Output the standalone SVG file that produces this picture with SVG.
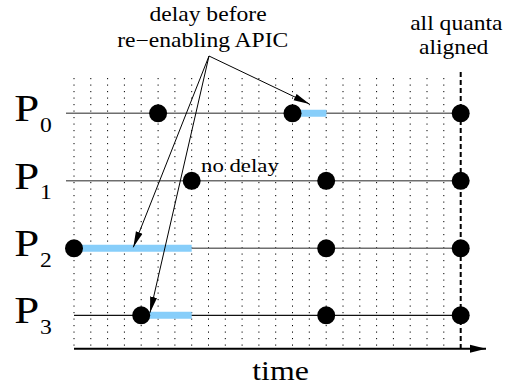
<svg xmlns="http://www.w3.org/2000/svg" width="508" height="387" viewBox="0 0 508 387">
  <style>
    text { font-family: 'Liberation Serif', 'Times New Roman', 'DejaVu Serif', serif; fill: #000; }
    .grid { stroke: #000; stroke-width: 1; stroke-dasharray: 1.2 5.3; fill: none; }
    .lane { stroke: #6e6e6e; stroke-width: 1.6; fill: none; }
    .lane-dark { stroke: #111; stroke-width: 1.2; fill: none; }
    .delay { stroke: #87cefa; stroke-width: 7; fill: none; }
    .evt { fill: #000; }
    .ptr { stroke: #000; stroke-width: 1; fill: none; marker-end: url(#head); }
  </style>
  <defs>
    <marker id="head" markerUnits="userSpaceOnUse" markerWidth="16" markerHeight="8" refX="16" refY="4" orient="auto">
      <path d="M0,0.5 L16,4 L0,7.5 z" fill="#000"/>
    </marker>
    <marker id="axis-head" markerUnits="userSpaceOnUse" markerWidth="16" markerHeight="9" refX="16" refY="4.5" orient="auto">
      <path d="M0,0.5 L16,4.5 L0,8.5 z" fill="#000"/>
    </marker>
  </defs>

  <!-- time grid: dotted ticks every quantum step -->
  <g id="grid">
    <path class="grid" d="M74,78V347 M90.8,78V347 M107.6,78V347 M124.4,78V347 M141.2,78V347 M158.1,78V347 M174.9,78V347 M191.7,78V347 M208.5,78V347 M225.3,78V347 M242.1,78V347 M258.9,78V347 M275.7,78V347 M292.5,78V347 M309.3,78V347 M326.2,78V347 M343,78V347 M359.8,78V347 M376.6,78V347 M393.4,78V347 M410.2,78V347 M427,78V347 M443.8,78V347"/>
    <line x1="460.7" y1="72" x2="460.7" y2="350" stroke="#000" stroke-width="2" stroke-dasharray="5 3"/>
  </g>

  <!-- time axis -->
  <g id="axis">
    <line x1="74" y1="348.7" x2="486" y2="348.7" stroke="#000" stroke-width="2" marker-end="url(#axis-head)"/>
    <text font-family="Liberation Serif, serif" font-size="27" text-anchor="middle" transform="translate(280.5,380) scale(1.18,1)">time</text>
  </g>

  <!-- processor P0 -->
  <g id="p0">
    <line class="lane" x1="66" y1="113.3" x2="460.7" y2="113.3"/>
    <line class="delay" x1="292.5" y1="113.3" x2="326.4" y2="113.3"/>
    <circle class="evt" cx="158.1" cy="113.3" r="9"/>
    <circle class="evt" cx="292.5" cy="113.3" r="9"/>
    <circle class="evt" cx="460.7" cy="113.3" r="9"/>
    <text font-family="Liberation Serif, serif" font-size="38" transform="translate(14.3,121.3) scale(1.18,1)">P</text>
    <text font-family="Liberation Serif, serif" font-size="20" transform="translate(40,131.5) scale(1.18,1)">0</text>
  </g>

  <!-- processor P1 -->
  <g id="p1">
    <line class="lane" x1="66" y1="180.8" x2="460.7" y2="180.8"/>
    <circle class="evt" cx="191.7" cy="180.8" r="9"/>
    <circle class="evt" cx="326.2" cy="180.8" r="9"/>
    <circle class="evt" cx="460.7" cy="180.8" r="9"/>
    <text font-family="Liberation Serif, serif" font-size="38" transform="translate(14.3,188.8) scale(1.18,1)">P</text>
    <text font-family="Liberation Serif, serif" font-size="20" transform="translate(40,199) scale(1.18,1)">1</text>
    <text font-family="Liberation Serif, serif" font-size="19" transform="translate(201,171.5) scale(1.2,1)">no delay</text>
  </g>

  <!-- processor P2 -->
  <g id="p2">
    <line class="lane" x1="74" y1="248.3" x2="460.7" y2="248.3"/>
    <line class="delay" x1="74" y1="248.3" x2="191.7" y2="248.3"/>
    <circle class="evt" cx="74" cy="248.3" r="9"/>
    <circle class="evt" cx="326.2" cy="248.3" r="9"/>
    <circle class="evt" cx="460.7" cy="248.3" r="9"/>
    <text font-family="Liberation Serif, serif" font-size="38" transform="translate(14.3,256.3) scale(1.18,1)">P</text>
    <text font-family="Liberation Serif, serif" font-size="20" transform="translate(40,266.5) scale(1.18,1)">2</text>
  </g>

  <!-- processor P3 -->
  <g id="p3">
    <line class="lane-dark" x1="74" y1="315.3" x2="460.7" y2="315.3"/>
    <line class="delay" x1="141.2" y1="315.3" x2="191.7" y2="315.3"/>
    <circle class="evt" cx="141.2" cy="315.3" r="9"/>
    <circle class="evt" cx="326.2" cy="315.3" r="9"/>
    <circle class="evt" cx="460.7" cy="315.3" r="9"/>
    <text font-family="Liberation Serif, serif" font-size="38" transform="translate(14.3,323.3) scale(1.18,1)">P</text>
    <text font-family="Liberation Serif, serif" font-size="20" transform="translate(40,333.5) scale(1.18,1)">3</text>
  </g>

  <!-- annotations -->
  <g id="note-delay">
    <text font-family="Liberation Serif, serif" font-size="20" text-anchor="middle" transform="translate(208,21) scale(1.18,1)">delay before</text>
    <text font-family="Liberation Serif, serif" font-size="20" text-anchor="middle" transform="translate(202.7,46.5) scale(1.18,1)">re−enabling APIC</text>
  </g>
  <g id="note-aligned">
    <text font-family="Liberation Serif, serif" font-size="20" text-anchor="middle" transform="translate(456.3,30) scale(1.18,1)">all quanta</text>
    <text font-family="Liberation Serif, serif" font-size="20" text-anchor="middle" transform="translate(453.7,53.5) scale(1.18,1)">aligned</text>
  </g>

  <!-- pointers from the note to each delay interval -->
  <g id="connectors">
    <line class="ptr" x1="209" y1="56" x2="309.5" y2="104"/>
    <line class="ptr" x1="209" y1="56" x2="133.3" y2="247.3"/>
    <line class="ptr" x1="209" y1="56" x2="150" y2="312.7"/>
  </g>
</svg>
